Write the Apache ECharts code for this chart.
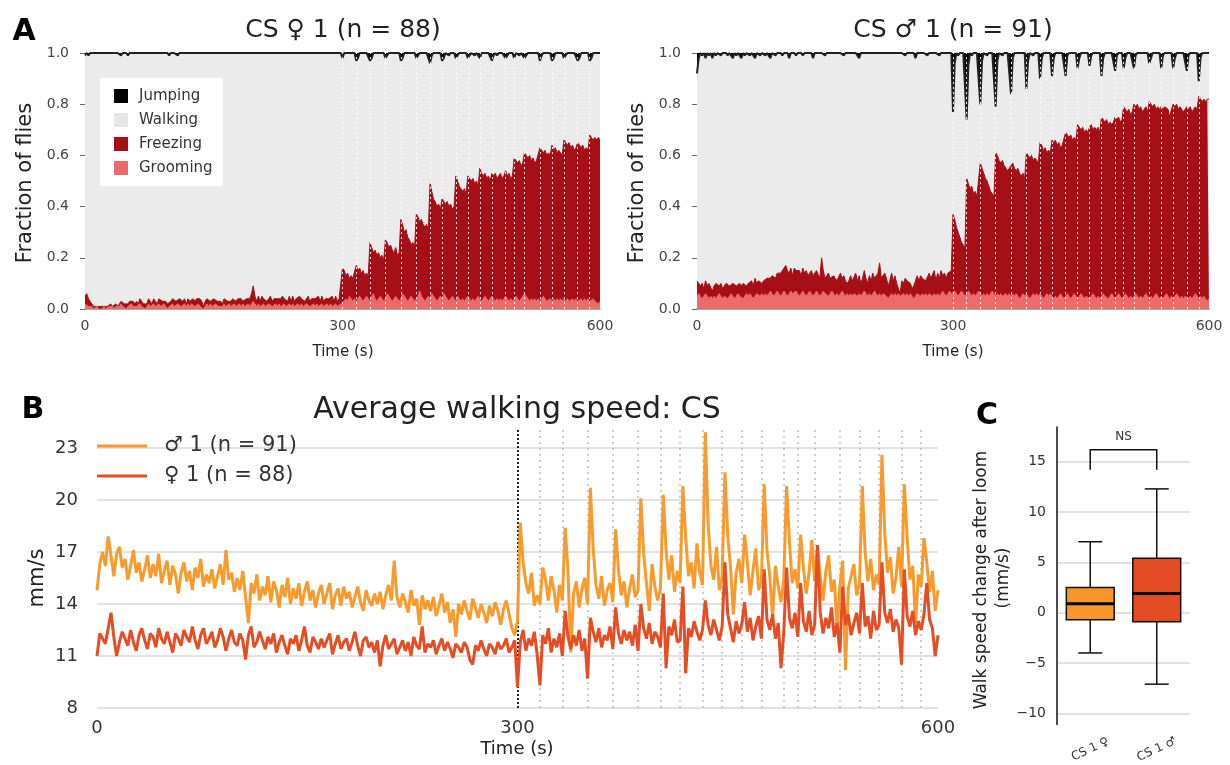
<!DOCTYPE html>
<html><head><meta charset="utf-8">
<script src="https://cdn.jsdelivr.net/npm/echarts@6/dist/echarts.min.js"></script>
<style>html,body{margin:0;padding:0;background:#fff}#c{width:1230px;height:765px}</style>
</head><body><div id="c"></div><script>
// ---------- DATA (sampled every 2 s, t = 0 .. 600) ----------
const timeStep = 2;
const loomTimes = [300,316,332,350,368,386,402,416,432,446,460,474,490,500,512,530,544,558,574,588];

// Panel A, female (n = 88): fraction of flies
const femaleGrooming = [
0.02,0.02,0.01,0.01,0.01,0.00,0.00,0.01,0.00,0.00,
0.00,0.01,0.00,0.00,0.01,0.01,0.01,0.00,0.01,0.01,
0.01,0.02,0.01,0.01,0.00,0.01,0.01,0.02,0.01,0.01,
0.01,0.01,0.02,0.01,0.01,0.00,0.01,0.02,0.01,0.01,
0.02,0.01,0.01,0.02,0.01,0.01,0.02,0.01,0.00,0.01,
0.01,0.02,0.01,0.01,0.02,0.02,0.01,0.01,0.02,0.01,
0.02,0.01,0.02,0.02,0.01,0.01,0.02,0.01,0.01,0.00,
0.01,0.02,0.01,0.02,0.01,0.01,0.02,0.02,0.01,0.01,
0.01,0.02,0.01,0.01,0.02,0.01,0.01,0.02,0.01,0.01,
0.02,0.01,0.02,0.01,0.01,0.02,0.01,0.02,0.03,0.02,
0.01,0.02,0.01,0.01,0.02,0.01,0.01,0.02,0.02,0.01,
0.01,0.02,0.01,0.02,0.01,0.01,0.02,0.01,0.01,0.02,
0.01,0.02,0.01,0.01,0.02,0.01,0.02,0.01,0.01,0.02,
0.02,0.01,0.01,0.02,0.01,0.02,0.01,0.01,0.02,0.01,
0.01,0.02,0.01,0.02,0.01,0.01,0.02,0.01,0.01,0.02,
0.02,0.03,0.04,0.03,0.05,0.04,0.03,0.04,0.03,0.04,
0.05,0.04,0.03,0.04,0.05,0.04,0.03,0.05,0.06,0.04,
0.03,0.04,0.05,0.04,0.03,0.04,0.06,0.05,0.04,0.03,
0.04,0.05,0.04,0.03,0.04,0.06,0.05,0.04,0.03,0.04,
0.05,0.04,0.03,0.04,0.05,0.07,0.05,0.04,0.03,0.04,
0.05,0.04,0.06,0.05,0.04,0.03,0.04,0.05,0.04,0.06,
0.05,0.04,0.03,0.04,0.05,0.04,0.03,0.05,0.04,0.03,
0.04,0.03,0.04,0.05,0.04,0.03,0.04,0.03,0.04,0.05,
0.04,0.03,0.04,0.05,0.04,0.03,0.04,0.05,0.04,0.03,
0.04,0.03,0.04,0.03,0.04,0.05,0.04,0.03,0.04,0.03,
0.04,0.05,0.04,0.03,0.04,0.05,0.06,0.05,0.04,0.03,
0.04,0.03,0.04,0.03,0.04,0.03,0.04,0.05,0.04,0.03,
0.03,0.04,0.03,0.04,0.03,0.04,0.03,0.04,0.03,0.04,
0.03,0.04,0.03,0.03,0.04,0.03,0.04,0.03,0.03,0.04,
0.03,0.04,0.03,0.04,0.03,0.03,0.04,0.03,0.03,0.02,
0.03];
const femaleFreezing = [
0.03,0.04,0.03,0.02,0.01,0.01,0.01,0.00,0.01,0.01,
0.01,0.00,0.01,0.01,0.00,0.01,0.00,0.01,0.01,0.00,
0.01,0.01,0.02,0.01,0.02,0.01,0.02,0.01,0.02,0.01,
0.02,0.01,0.02,0.02,0.01,0.02,0.01,0.02,0.02,0.01,
0.02,0.02,0.01,0.02,0.03,0.02,0.01,0.02,0.02,0.01,
0.02,0.02,0.03,0.02,0.01,0.02,0.03,0.02,0.02,0.01,
0.02,0.02,0.01,0.02,0.02,0.03,0.02,0.03,0.02,0.01,
0.02,0.02,0.03,0.01,0.02,0.03,0.02,0.01,0.02,0.02,
0.01,0.02,0.03,0.02,0.01,0.02,0.03,0.02,0.02,0.03,
0.02,0.03,0.01,0.02,0.03,0.02,0.03,0.04,0.06,0.03,
0.02,0.03,0.02,0.04,0.02,0.03,0.02,0.01,0.03,0.02,
0.03,0.02,0.03,0.02,0.03,0.04,0.02,0.03,0.02,0.03,
0.02,0.03,0.02,0.03,0.02,0.04,0.02,0.03,0.02,0.01,
0.03,0.02,0.03,0.02,0.03,0.02,0.04,0.02,0.03,0.02,
0.03,0.02,0.03,0.02,0.04,0.02,0.03,0.02,0.03,0.02,
0.14,0.12,0.09,0.11,0.07,0.09,0.09,0.08,0.14,0.11,
0.11,0.10,0.12,0.09,0.09,0.09,0.23,0.19,0.16,0.19,
0.18,0.18,0.15,0.17,0.16,0.23,0.20,0.19,0.21,0.20,
0.18,0.19,0.17,0.19,0.31,0.27,0.25,0.27,0.25,0.23,
0.20,0.22,0.21,0.33,0.31,0.27,0.30,0.29,0.29,0.29,
0.26,0.45,0.40,0.38,0.38,0.37,0.37,0.34,0.39,0.36,
0.36,0.38,0.37,0.37,0.34,0.36,0.49,0.45,0.44,0.44,
0.42,0.44,0.41,0.47,0.47,0.47,0.47,0.46,0.46,0.43,
0.51,0.50,0.48,0.48,0.47,0.49,0.46,0.48,0.48,0.50,
0.47,0.49,0.49,0.48,0.48,0.49,0.48,0.50,0.47,0.49,
0.55,0.53,0.53,0.55,0.52,0.52,0.55,0.55,0.55,0.57,
0.54,0.56,0.53,0.55,0.54,0.60,0.58,0.56,0.58,0.57,
0.58,0.56,0.61,0.58,0.60,0.57,0.59,0.57,0.57,0.62,
0.62,0.60,0.62,0.60,0.60,0.59,0.59,0.62,0.61,0.59,
0.61,0.58,0.60,0.58,0.65,0.64,0.62,0.64,0.63,0.65,
0.63];
// jumping: [time (s), fraction] — all other samples are 0
const femaleJumpEvents = [[0,0.01],[4,0.01],[42,0.01],[46,0.005],[50,0.01],[54,0.005],[98,0.01],[108,0.01],
[300,0.02],[316,0.03],[318,0.02],[332,0.03],[334,0.02],[350,0.02],[352,0.01],[368,0.03],[370,0.02],[386,0.02],[388,0.01],
[402,0.04],[404,0.01],[416,0.03],[418,0.02],[424,0.01],[432,0.02],[434,0.01],[446,0.02],[448,0.01],[454,0.01],[460,0.02],
[474,0.03],[476,0.01],[480,0.01],[490,0.02],[492,0.02],[500,0.02],[506,0.01],[512,0.02],[514,0.01],[530,0.03],[532,0.01],
[544,0.03],[546,0.02],[558,0.02],[560,0.01],[574,0.03],[576,0.02],[588,0.03],[590,0.02]];

// Panel A, male (n = 91)
const maleGrooming = [
0.05,0.06,0.05,0.04,0.05,0.06,0.05,0.04,0.05,0.04,
0.05,0.04,0.05,0.06,0.05,0.04,0.05,0.05,0.04,0.05,
0.06,0.05,0.04,0.05,0.06,0.05,0.05,0.04,0.05,0.06,
0.05,0.06,0.05,0.04,0.05,0.06,0.06,0.05,0.06,0.05,
0.06,0.05,0.06,0.07,0.06,0.05,0.06,0.07,0.06,0.05,
0.06,0.07,0.06,0.05,0.06,0.07,0.06,0.06,0.07,0.06,
0.05,0.06,0.07,0.06,0.05,0.06,0.07,0.06,0.05,0.06,
0.07,0.06,0.05,0.06,0.07,0.06,0.06,0.05,0.06,0.07,
0.06,0.05,0.06,0.05,0.06,0.07,0.06,0.05,0.06,0.05,
0.06,0.05,0.06,0.06,0.05,0.06,0.05,0.06,0.07,0.06,
0.05,0.06,0.05,0.06,0.07,0.06,0.05,0.06,0.05,0.06,
0.06,0.05,0.04,0.05,0.06,0.05,0.06,0.05,0.06,0.05,
0.05,0.06,0.05,0.06,0.05,0.06,0.05,0.04,0.05,0.06,
0.06,0.05,0.06,0.05,0.06,0.05,0.06,0.06,0.05,0.06,
0.05,0.06,0.05,0.06,0.07,0.06,0.05,0.06,0.07,0.06,
0.06,0.07,0.06,0.05,0.06,0.07,0.06,0.05,0.06,0.07,
0.06,0.05,0.06,0.05,0.06,0.07,0.06,0.05,0.06,0.05,
0.06,0.05,0.06,0.07,0.06,0.05,0.06,0.05,0.06,0.05,
0.05,0.06,0.05,0.06,0.05,0.06,0.05,0.06,0.05,0.04,
0.05,0.06,0.05,0.06,0.05,0.04,0.05,0.06,0.05,0.06,
0.05,0.06,0.05,0.04,0.05,0.06,0.05,0.06,0.05,0.04,
0.05,0.04,0.05,0.06,0.05,0.04,0.05,0.06,0.05,0.04,
0.05,0.06,0.05,0.04,0.05,0.06,0.05,0.04,0.05,0.05,
0.04,0.05,0.06,0.05,0.04,0.05,0.04,0.05,0.06,0.05,
0.05,0.04,0.05,0.06,0.05,0.04,0.05,0.06,0.05,0.04,
0.05,0.06,0.05,0.04,0.05,0.04,0.05,0.06,0.05,0.04,
0.05,0.04,0.05,0.06,0.05,0.04,0.05,0.04,0.05,0.06,
0.05,0.04,0.05,0.04,0.05,0.06,0.05,0.04,0.05,0.04,
0.05,0.06,0.05,0.04,0.05,0.04,0.05,0.05,0.04,0.05,
0.04,0.05,0.06,0.05,0.04,0.05,0.04,0.05,0.04,0.03,
0.04];
const maleFreezing = [
0.06,0.05,0.04,0.06,0.03,0.05,0.04,0.06,0.05,0.03,
0.04,0.06,0.05,0.03,0.05,0.04,0.03,0.05,0.06,0.04,
0.03,0.05,0.06,0.04,0.03,0.05,0.04,0.06,0.05,0.03,
0.05,0.04,0.06,0.05,0.07,0.04,0.05,0.06,0.04,0.06,
0.05,0.07,0.06,0.05,0.07,0.08,0.06,0.07,0.08,0.09,
0.08,0.09,0.11,0.10,0.08,0.09,0.07,0.10,0.08,0.09,
0.10,0.07,0.09,0.08,0.10,0.07,0.06,0.09,0.08,0.07,
0.08,0.09,0.07,0.14,0.08,0.06,0.07,0.09,0.06,0.05,
0.07,0.08,0.05,0.06,0.08,0.05,0.07,0.06,0.04,0.06,
0.07,0.06,0.05,0.08,0.06,0.07,0.05,0.06,0.08,0.06,
0.05,0.07,0.06,0.08,0.05,0.07,0.09,0.12,0.07,0.06,
0.08,0.07,0.05,0.06,0.08,0.06,0.07,0.05,0.04,0.01,
0.06,0.04,0.07,0.05,0.06,0.04,0.03,0.05,0.06,0.07,
0.05,0.08,0.06,0.07,0.05,0.06,0.08,0.06,0.07,0.09,
0.06,0.08,0.07,0.09,0.06,0.08,0.07,0.08,0.07,0.09,
0.31,0.28,0.26,0.25,0.22,0.19,0.19,0.19,0.45,0.42,
0.41,0.43,0.39,0.41,0.38,0.37,0.51,0.50,0.47,0.46,
0.44,0.43,0.40,0.38,0.38,0.56,0.54,0.53,0.51,0.53,
0.51,0.49,0.49,0.48,0.51,0.51,0.50,0.48,0.50,0.49,
0.47,0.47,0.46,0.55,0.55,0.55,0.55,0.52,0.54,0.52,
0.52,0.59,0.59,0.58,0.58,0.55,0.57,0.55,0.61,0.61,
0.61,0.60,0.60,0.57,0.59,0.60,0.64,0.62,0.62,0.64,
0.61,0.61,0.61,0.68,0.66,0.64,0.66,0.65,0.65,0.64,
0.67,0.67,0.64,0.66,0.66,0.66,0.65,0.70,0.68,0.68,
0.69,0.68,0.68,0.66,0.68,0.71,0.69,0.69,0.68,0.70,
0.74,0.72,0.72,0.74,0.71,0.73,0.75,0.73,0.75,0.74,
0.74,0.73,0.73,0.73,0.72,0.77,0.75,0.75,0.75,0.72,
0.74,0.74,0.74,0.74,0.74,0.73,0.73,0.71,0.73,0.76,
0.74,0.74,0.73,0.75,0.73,0.73,0.73,0.74,0.74,0.74,
0.73,0.73,0.73,0.73,0.79,0.77,0.77,0.77,0.77,0.79,
0.78];
const maleJumpEvents = [[0,0.08],[2,0.02],[6,0.01],[10,0.02],[14,0.01],[18,0.02],[22,0.01],[28,0.01],[36,0.01],[42,0.02],
[46,0.01],[52,0.02],[56,0.01],[62,0.01],[68,0.02],[74,0.01],[80,0.01],[86,0.02],[92,0.01],[100,0.01],[108,0.02],[116,0.01],
[124,0.01],[136,0.02],[150,0.01],[172,0.01],[190,0.02],[244,0.01],[256,0.02],[270,0.01],[284,0.01],
[300,0.23],[302,0.04],[306,0.01],[316,0.26],[318,0.05],[322,0.01],[332,0.20],[334,0.03],[340,0.01],[350,0.21],[352,0.03],
[358,0.01],[368,0.16],[370,0.02],[386,0.14],[388,0.03],[394,0.01],[402,0.10],[404,0.02],[416,0.09],[418,0.02],[432,0.09],
[434,0.01],[446,0.06],[448,0.02],[460,0.05],[462,0.01],[474,0.09],[476,0.02],[490,0.07],[492,0.01],[500,0.06],[502,0.02],
[512,0.06],[514,0.01],[530,0.04],[532,0.02],[544,0.06],[546,0.01],[558,0.06],[560,0.02],[574,0.07],[576,0.01],[588,0.11],[590,0.02]];

// Panel B: average walking speed (mm/s)
const maleSpeed = [
14.8,16.3,17.0,16.2,17.9,16.8,15.6,16.9,17.3,16.1,
16.6,15.4,16.2,17.1,15.8,16.4,15.3,16.0,16.8,15.5,
16.3,15.6,16.9,15.2,15.9,16.5,15.1,16.2,15.7,14.6,
15.8,16.4,15.3,15.9,14.8,16.1,15.5,16.6,15.0,15.7,
15.2,16.0,14.9,15.6,16.3,15.1,17.1,15.4,15.8,14.7,
15.5,14.8,15.9,14.4,12.9,15.2,14.6,15.7,14.2,15.0,
14.5,15.6,14.1,15.3,14.8,13.8,15.1,14.4,15.5,14.0,
14.9,14.3,15.2,13.9,14.7,15.3,14.2,14.8,13.8,14.6,
15.1,14.0,14.6,15.2,13.7,14.5,14.9,13.9,15.0,14.3,
14.7,13.8,14.4,15.0,14.1,13.6,14.8,14.2,13.9,14.6,
14.0,14.7,13.7,14.5,15.1,14.2,16.5,14.4,13.8,14.6,
14.1,13.5,14.8,13.9,14.3,12.8,14.5,13.7,14.2,13.6,
14.4,13.3,13.9,14.6,13.5,14.1,12.9,13.7,12.1,14.0,
13.4,14.2,13.6,13.1,14.3,13.8,13.2,14.0,13.5,12.9,
13.9,13.3,14.1,13.6,12.8,13.7,14.2,13.4,12.6,12.2,
13.0,18.7,16.4,15.2,14.6,15.8,13.9,14.5,14.0,16.1,
15.4,14.2,15.6,14.8,13.5,15.1,14.2,18.4,15.9,11.2,
14.6,15.3,13.8,14.9,15.5,14.0,20.7,17.2,15.1,14.3,
15.6,13.9,14.8,15.2,14.1,18.3,16.0,14.5,15.3,13.8,
14.9,15.7,14.4,14.8,20.1,16.9,15.2,13.6,16.3,15.0,
14.2,14.9,20.3,17.1,15.4,16.8,14.7,15.9,15.2,20.8,
17.8,15.6,16.4,14.9,17.5,15.8,15.1,23.9,18.6,16.2,
15.4,17.3,14.8,15.6,21.6,17.9,16.1,13.4,15.8,16.6,
15.2,18.0,16.4,14.5,15.9,17.2,14.8,15.3,20.9,17.1,
15.6,13.2,16.2,15.0,14.1,15.5,20.8,17.6,15.2,16.0,
14.9,18.0,16.1,14.6,15.8,17.7,15.3,17.4,15.6,14.2,
15.9,16.8,14.7,15.4,12.6,15.0,16.5,10.2,14.9,15.6,
16.3,14.5,15.2,20.8,17.0,15.3,16.6,14.8,15.7,15.1,
22.6,18.1,15.8,16.7,14.6,15.5,17.3,15.0,20.9,17.8,
15.4,16.2,12.9,15.7,15.0,17.8,16.4,14.7,15.9,13.6,
14.8];
const femaleSpeed = [
11.0,12.3,12.0,11.7,12.6,13.5,12.1,11.0,11.8,12.4,
12.0,11.6,12.5,11.8,11.3,12.2,12.6,11.9,11.4,12.3,
12.1,11.5,12.6,12.0,11.7,12.4,11.8,11.2,12.3,12.0,
11.6,12.5,12.1,11.8,12.7,11.9,11.4,12.2,12.6,11.7,
12.0,12.4,11.5,11.9,12.6,12.1,11.3,12.0,12.5,11.8,
11.6,12.3,11.9,10.8,12.2,12.7,11.5,11.8,12.4,11.9,
11.4,12.1,11.7,12.3,11.2,11.8,12.2,11.6,11.1,12.0,
11.7,12.2,11.3,11.9,12.7,11.6,11.2,12.1,11.8,11.4,
12.0,11.5,11.9,12.3,11.1,11.7,12.2,11.4,11.8,12.0,
11.3,11.8,12.4,11.6,11.0,11.9,12.1,11.5,11.8,11.2,
11.9,10.4,11.6,12.2,11.4,11.7,12.0,11.1,11.5,11.9,
11.3,11.8,11.0,12.1,11.6,11.4,12.7,11.2,11.7,11.5,
11.9,11.1,11.6,12.0,11.3,11.8,11.4,10.9,11.7,11.5,
11.2,11.8,11.5,10.8,10.5,11.6,11.3,11.9,11.4,11.0,
11.7,11.5,11.1,11.8,11.4,11.6,12.0,11.2,11.5,11.9,
9.2,11.8,12.5,11.3,12.0,11.6,12.4,11.1,9.3,12.2,
11.7,12.6,11.2,12.0,11.5,12.3,11.0,13.6,12.1,11.4,
12.2,11.6,12.5,11.3,12.0,9.7,13.2,12.4,11.8,12.6,
11.5,12.2,11.9,12.7,11.4,13.8,12.3,11.7,12.5,11.9,
12.4,11.6,12.8,11.3,14.0,12.6,12.0,12.9,11.7,12.4,
12.1,11.5,14.6,10.3,12.7,12.2,13.1,11.8,11.9,15.0,
10.0,12.6,12.1,13.0,12.4,11.9,12.5,14.2,12.8,12.2,
13.1,12.5,11.9,12.7,16.4,13.4,12.6,11.8,13.0,12.3,
12.8,14.1,12.4,13.2,11.9,12.7,13.3,12.0,16.0,13.1,
12.5,13.4,12.0,12.9,10.3,12.4,16.1,13.2,12.6,13.5,
12.1,15.2,13.0,12.4,13.6,12.2,12.8,17.4,13.5,12.3,
13.2,12.6,13.8,12.1,12.9,11.2,15.0,12.8,13.4,12.2,
12.9,13.5,12.3,15.2,12.7,13.3,12.0,13.6,12.5,12.8,
16.4,13.5,12.9,13.7,12.4,13.1,12.6,10.5,16.0,13.3,
12.7,13.6,12.2,13.0,12.5,13.4,15.2,13.1,12.6,11.0,
12.2];

// Panel C: walk speed change after loom (mm/s): [min, Q1, median, Q3, max]
const boxCategories = ['CS 1 ♀', 'CS 1 ♂'];
const boxStats = [[-4.0, -0.7, 0.9, 2.5, 7.05], [-7.1, -0.9, 1.9, 5.4, 12.3]];
const nsBracket = [0, 1, 14.2, 16.2, 'NS']; // from category, to category, leg bottom, bracket top, label

// ---------- BUILD ----------
[femaleGrooming, femaleFreezing, maleGrooming, maleFreezing, maleSpeed, femaleSpeed].forEach((a, k) => {
  if (a.length !== 301) throw new Error('array ' + k + ' has length ' + a.length);
});
const times = femaleFreezing.map((_, i) => i * timeStep);
const pairs = arr => times.map((t, i) => [t, arr[i]]);
const expandEvents = ev => { const m = new Map(ev); return times.map(t => m.get(t) || 0); };

const FONT = 'DejaVu Sans';
const DARK = '#a50f15', LIGHT = '#ec6a6a', GRAYBG = '#ebebeb';
const ORANGE = '#f89a2c', RED = '#e54e24';
const BOXCOL = ['#f7962b', '#e34c22'];

function panelA(idx, groom, freeze, jumpEv) {
  const total = groom.map((g, i) => +(g + freeze[i]).toFixed(3));
  const jump = expandEvents(jumpEv);
  return [
    { name: 'Freezing', type: 'line', xAxisIndex: idx, yAxisIndex: idx, data: pairs(total), symbol: 'none',
      color: DARK, lineStyle: { color: DARK, width: 1 }, areaStyle: { color: DARK, opacity: 1 }, z: 2 },
    { name: 'Grooming', type: 'line', xAxisIndex: idx, yAxisIndex: idx, data: pairs(groom), symbol: 'none',
      color: LIGHT, lineStyle: { color: LIGHT, width: 1 }, areaStyle: { color: LIGHT, opacity: 1 }, z: 3 },
    { name: 'Jumping', type: 'line', xAxisIndex: idx, yAxisIndex: idx, data: times.map((t, i) => [t, 1 - jump[i]]),
      symbol: 'none', color: '#000', lineStyle: { color: '#222', width: 2 },
      areaStyle: { color: '#000', opacity: 1, origin: 'end' }, z: 4,
      markLine: { silent: true, symbol: ['none', 'none'], label: { show: false }, animation: false,
        lineStyle: { color: '#ffffff', type: [2, 3], width: 1, opacity: 0.9 },
        data: loomTimes.map(t => ({ xAxis: t })) } }
  ];
}

const loomLinesB = loomTimes.map(t => t === 300
  ? { xAxis: t, lineStyle: { color: '#222', type: [2, 2], width: 2 } }
  : { xAxis: t, lineStyle: { color: '#bdbdbd', type: [2, 4], width: 1.5 } });

const txt = (text, x, y, size, opts = {}) => ({
  type: 'text', x, y, rotation: opts.rot || 0, silent: true,
  style: { text, fontFamily: FONT, fontSize: size, fontWeight: opts.bold ? 'bold' : 'normal',
    fill: opts.color || '#222', textAlign: 'center', textVerticalAlign: 'middle' }
});

const axisA = idx => ({
  type: 'value', gridIndex: idx, min: 0, max: 600, interval: 300,
  axisLine: { show: true, lineStyle: { color: '#8c8c8c', width: 1.5 } }, axisTick: { show: false },
  splitLine: { show: false }, axisLabel: { fontFamily: FONT, fontSize: 14, color: '#444', margin: 10 }
});
const yAxisA = idx => ({
  type: 'value', gridIndex: idx, min: 0, max: 1, interval: 0.2,
  axisLine: { show: false }, axisTick: { show: true, length: 5, lineStyle: { color: '#666' } },
  splitLine: { show: false },
  axisLabel: { fontFamily: FONT, fontSize: 14, color: '#444', margin: 16, formatter: v => v.toFixed(1) }
});

const option = {
  animation: false,
  backgroundColor: '#fff',
  grid: [
    { left: 85, top: 53, width: 515, height: 256, show: true, backgroundColor: GRAYBG, borderWidth: 0 },
    { left: 697, top: 53, width: 512, height: 256, show: true, backgroundColor: GRAYBG, borderWidth: 0 },
    { left: 97, top: 428, width: 841, height: 280 },
    { left: 1057, top: 427, width: 133, height: 298 }
  ],
  xAxis: [
    axisA(0), axisA(1),
    { type: 'value', gridIndex: 2, min: 0, max: 600, interval: 300, axisLine: { show: false }, axisTick: { show: false },
      splitLine: { show: false }, axisLabel: { fontFamily: FONT, fontSize: 18, color: '#333', margin: 11 } },
    { type: 'category', gridIndex: 3, data: boxCategories, axisLine: { show: false }, axisTick: { show: false },
      axisLabel: { fontFamily: FONT, fontSize: 12, color: '#333', rotate: 25, align: 'center', verticalAlign: 'middle', margin: 25 } }
  ],
  yAxis: [
    yAxisA(0), yAxisA(1),
    { type: 'value', gridIndex: 2, min: 8, max: 24.15, interval: 3, axisLine: { show: false }, axisTick: { show: false },
      splitLine: { show: true, showMaxLine: false, lineStyle: { color: '#e2e2e2', width: 2 } },
      axisLabel: { fontFamily: FONT, fontSize: 18, color: '#333', margin: 19, showMaxLabel: false } },
    { type: 'value', gridIndex: 3, min: -11.1, max: 18.45,
      axisLine: { show: true, lineStyle: { color: '#111', width: 1.5 } }, axisTick: { show: false },
      splitLine: { show: true, showMinLine: false, showMaxLine: false, lineStyle: { color: '#e2e2e2', width: 2 } },
      axisLabel: { fontFamily: FONT, fontSize: 14, color: '#333', margin: 11, showMinLabel: false, showMaxLabel: false,
        formatter: v => v < 0 ? '\u2212' + Math.abs(v) : String(v) } }
  ],
  legend: [
    { data: ['Jumping', 'Walking', 'Freezing', 'Grooming'], orient: 'vertical', left: 100, top: 78,
      backgroundColor: '#fff', padding: [10, 10, 10, 14], itemWidth: 14, itemHeight: 14, itemGap: 8, icon: 'rect',
      selectedMode: false, textStyle: { fontFamily: FONT, fontSize: 15, color: '#333', lineHeight: 16, padding: [0, 0, 0, 6] } },
    { data: ['\u2642 1 (n = 91)', '\u2640 1 (n = 88)'], orient: 'vertical', left: 97, top: 434, padding: 0,
      itemWidth: 50, itemHeight: 3, itemGap: 6, icon: 'rect', selectedMode: false,
      textStyle: { fontFamily: FONT, fontSize: 21, color: '#333', lineHeight: 24, padding: [0, 0, 0, 12] } }
  ],
  series: [
    ...panelA(0, femaleGrooming, femaleFreezing, femaleJumpEvents),
    { name: 'Walking', type: 'line', xAxisIndex: 0, yAxisIndex: 0, data: [], color: '#e6e6e6' },
    ...panelA(1, maleGrooming, maleFreezing, maleJumpEvents),
    { name: '\u2642 1 (n = 91)', type: 'line', xAxisIndex: 2, yAxisIndex: 2, data: pairs(maleSpeed), symbol: 'none',
      color: ORANGE, lineStyle: { color: ORANGE, width: 3 }, z: 3,
      markLine: { z: 1, silent: true, symbol: ['none', 'none'], label: { show: false }, animation: false, data: loomLinesB } },
    { name: '\u2640 1 (n = 88)', type: 'line', xAxisIndex: 2, yAxisIndex: 2, data: pairs(femaleSpeed), symbol: 'none',
      color: RED, lineStyle: { color: RED, width: 3 }, z: 4 },
    { type: 'custom', xAxisIndex: 3, yAxisIndex: 3, z: 5,
      data: boxStats.map((s, i) => [i, ...s]),
      encode: { x: 0, y: [1, 2, 3, 4, 5] },
      renderItem: (params, api) => {
        const idx = api.value(0);
        const lo = api.coord([idx, api.value(1)]), q1 = api.coord([idx, api.value(2)]);
        const med = api.coord([idx, api.value(3)]), q3 = api.coord([idx, api.value(4)]), hi = api.coord([idx, api.value(5)]);
        const band = api.size([1, 0])[0];
        const bw = band * 0.72, cw = bw * 0.5, x = lo[0];
        const ls = { stroke: '#111', lineWidth: 1.5 };
        return { type: 'group', children: [
          { type: 'line', shape: { x1: x, y1: hi[1], x2: x, y2: q3[1] }, style: ls },
          { type: 'line', shape: { x1: x, y1: q1[1], x2: x, y2: lo[1] }, style: ls },
          { type: 'line', shape: { x1: x - cw / 2, y1: hi[1], x2: x + cw / 2, y2: hi[1] }, style: ls },
          { type: 'line', shape: { x1: x - cw / 2, y1: lo[1], x2: x + cw / 2, y2: lo[1] }, style: ls },
          { type: 'rect', shape: { x: x - bw / 2, y: q3[1], width: bw, height: q1[1] - q3[1] },
            style: { fill: BOXCOL[idx], stroke: '#111', lineWidth: 1.5 } },
          { type: 'line', shape: { x1: x - bw / 2, y1: med[1], x2: x + bw / 2, y2: med[1] }, style: { stroke: '#000', lineWidth: 3 } }
        ] };
      } },
    { type: 'custom', xAxisIndex: 3, yAxisIndex: 3, z: 5, data: [nsBracket.slice(0, 4)],
      renderItem: (params, api) => {
        const a = api.coord([api.value(0), api.value(2)]), b = api.coord([api.value(0), api.value(3)]);
        const c = api.coord([api.value(1), api.value(3)]), d = api.coord([api.value(1), api.value(2)]);
        return { type: 'group', children: [
          { type: 'polyline', shape: { points: [a, b, c, d] }, style: { stroke: '#111', lineWidth: 1.5, fill: null } },
          { type: 'text', x: (b[0] + c[0]) / 2, y: b[1] - 13,
            style: { text: nsBracket[4], fontFamily: FONT, fontSize: 12, fill: '#333', textAlign: 'center', textVerticalAlign: 'middle' } }
        ] };
      } }
  ],
  graphic: [
    txt('A', 24, 32, 30, { bold: true, color: '#000' }),
    txt('B', 33, 410, 30, { bold: true, color: '#000' }),
    txt('C', 987, 416, 30, { bold: true, color: '#000' }),
    txt('CS \u2640 1 (n = 88)', 343, 30, 25),
    txt('CS \u2642 1 (n = 91)', 953, 30, 25),
    txt('Time (s)', 343, 352, 15),
    txt('Time (s)', 953, 352, 15),
    txt('Fraction of flies', 26, 183, 21, { rot: Math.PI / 2 }),
    txt('Fraction of flies', 638, 183, 21, { rot: Math.PI / 2 }),
    txt('Average walking speed: CS', 517, 410, 30),
    txt('mm/s', 38, 578, 21, { rot: Math.PI / 2 }),
    txt('Time (s)', 517, 749, 18),
    txt('Walk speed change after loom', 982, 580, 17, { rot: Math.PI / 2 }),
    txt('(mm/s)', 1004, 578, 17, { rot: Math.PI / 2 })
  ]
};

const chart = echarts.init(document.getElementById('c'), null, { renderer: 'canvas' });
chart.setOption(option);
</script></body></html>
